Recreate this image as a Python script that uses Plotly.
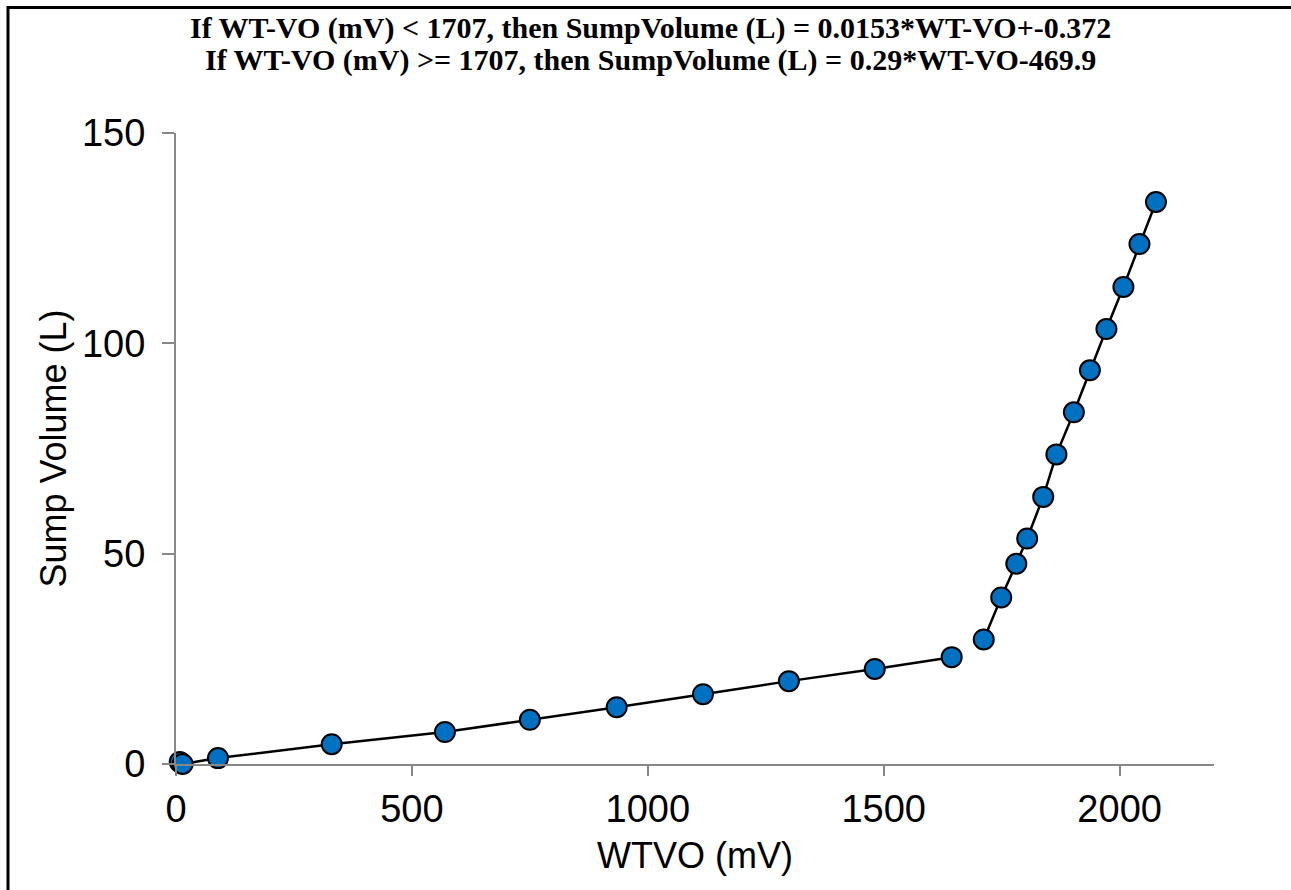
import plotly.graph_objects as go

# Lower segment (WT-VO < 1707)
low_x = [8, 14, 89, 330, 570, 750, 934, 1117, 1299, 1481, 1644]
low_y = [0.5, 0.0, 1.4, 4.7, 7.6, 10.5, 13.5, 16.6, 19.7, 22.6, 25.4]
# Upper segment (WT-VO >= 1707)
high_x = [1712, 1749, 1781, 1804, 1838, 1866, 1903, 1937, 1972, 2008, 2042, 2077]
high_y = [29.6, 39.6, 47.6, 53.6, 63.5, 73.6, 83.6, 93.6, 103.4, 113.4, 123.6, 133.6]

title_lines = [
    "If WT-VO (mV) < 1707, then SumpVolume (L) = 0.0153*WT-VO+-0.372",
    "If WT-VO (mV) >= 1707, then SumpVolume (L) = 0.29*WT-VO-469.9",
]
x_ticks = [0, 500, 1000, 1500, 2000]
y_ticks = [0, 50, 100, 150]

marker = dict(size=20, color="#0070C0", line=dict(color="black", width=2))
line = dict(color="black", width=2.5)

fig = go.Figure()
for xs, ys in [(low_x, low_y), (high_x, high_y)]:
    fig.add_trace(go.Scatter(x=xs, y=ys, mode="lines+markers", marker=marker,
                             line=line, cliponaxis=False, showlegend=False))

L, R, T, B = 176, 77, 133, 126
W, H = 1291, 890
pw, ph = W - L - R, H - T - B

def px(x):
    return (x - L) / pw

def py(y):
    return (H - B - y) / ph

sans = "Liberation Sans, Arial"
serif = "Liberation Serif, Times New Roman"

fig.update_layout(
    width=W, height=H,
    margin=dict(l=L, r=R, t=T, b=B),
    paper_bgcolor="white", plot_bgcolor="white",
    font=dict(family=sans, size=38, color="black"),
    xaxis=dict(range=[0, 2200], tickvals=x_ticks, showgrid=False, zeroline=False,
               showline=True, linecolor="#878787", linewidth=2,
               ticks="outside", ticklen=10, tickcolor="#878787", tickwidth=2,
               ticklabelstandoff=0,
               title=dict(text="WTVO (mV)", standoff=14, font=dict(family=sans, size=36)),
               tickfont=dict(family=sans, size=38)),
    yaxis=dict(range=[0, 150], tickvals=y_ticks, showgrid=False, zeroline=False,
               showline=True, linecolor="#878787", linewidth=2,
               ticks="outside", ticklen=12, tickcolor="#878787", tickwidth=2,
               ticklabelstandoff=9,
               title=dict(text="Sump Volume (L)", standoff=4, font=dict(family=sans, size=36)),
               tickfont=dict(family=sans, size=38)),
    annotations=[
        dict(text="<b>" + title_lines[0] + "</b>", xref="paper", yref="paper",
             x=px(650), y=py(28), xanchor="center", yanchor="middle", showarrow=False,
             font=dict(family=serif, size=30)),
        dict(text="<b>" + title_lines[1] + "</b>", xref="paper", yref="paper",
             x=px(650), y=py(60), xanchor="center", yanchor="middle", showarrow=False,
             font=dict(family=serif, size=30)),
    ],
    shapes=[
        dict(type="line", xref="paper", yref="paper", x0=px(7), x1=px(1291),
             y0=py(7.5), y1=py(7.5), line=dict(color="black", width=3)),
        dict(type="line", xref="paper", yref="paper", x0=px(8), x1=px(8),
             y0=py(6), y1=py(890), line=dict(color="black", width=3)),
    ],
)

fig.write_html("out.html", config={"displayModeBar": False},
               post_script="document.body.style.margin='0';")
